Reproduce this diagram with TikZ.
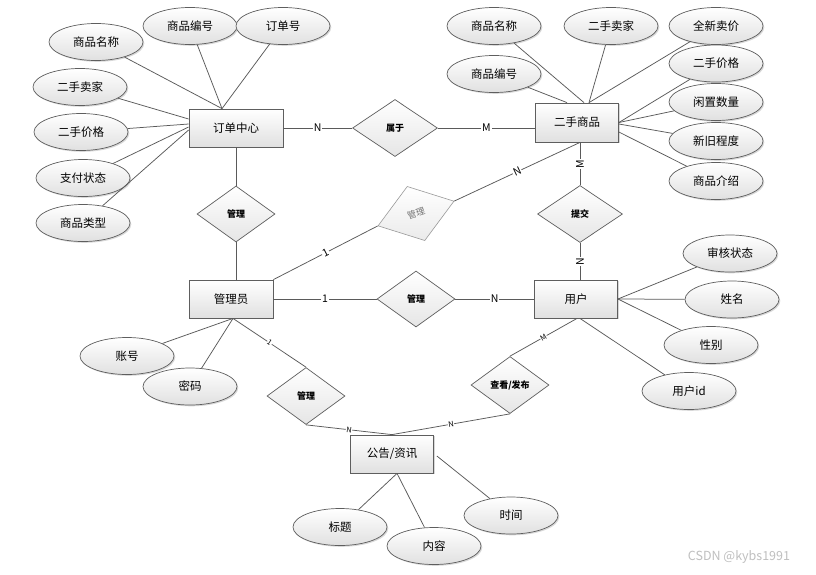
\documentclass[tikz,border=0pt]{standalone}
\usepackage{fontspec}
\newfontfamily\cjk{Noto Sans CJK SC}
\usetikzlibrary{shapes.geometric,calc,shadows}
\definecolor{edge}{HTML}{5E5E5E}
\definecolor{ln}{HTML}{5A5A5A}
\begin{document}
\begin{tikzpicture}[x=1pt,y=-1pt,
  shd/.style={drop shadow={shadow xshift=1.3pt,shadow yshift=-1.3pt,opacity=0.25,fill=black!60}},
  ent/.style={rectangle,draw=edge,line width=0.8pt,top color=white,bottom color=black!12,shd,
    minimum width=84pt,minimum height=38pt,inner sep=0pt,font=\cjk\fontsize{11.5}{13}\selectfont},
  attr/.style={ellipse,draw=edge,line width=0.7pt,top color=white,bottom color=black!12,shd,
    minimum width=94pt,minimum height=37pt,inner sep=0pt,font=\cjk\fontsize{11.5}{13}\selectfont},
  rel/.style={diamond,draw=edge,line width=0.7pt,top color=white,bottom color=black!10,aspect=1.4,
    minimum width=78pt,minimum height=56pt,inner sep=0pt,font=\cjk\bfseries\fontsize{9}{10}\selectfont},
  conn/.style={draw=ln,line width=0.75pt},
  lab/.style={fill=white,inner sep=0.8pt,font=\cjk\fontsize{10.5}{11}\selectfont},
  slab/.style={fill=white,inner sep=0.5pt,font=\cjk\fontsize{7.5}{8}\selectfont}]
\useasboundingbox (0,0) rectangle (816,574);
\fill[white] (0,0) rectangle (816,574);

% entities
\node[ent,minimum width=94pt] (ddzx) at (236,128) {订单中心};
\node[ent,minimum width=83pt,minimum height=39pt] (eshp) at (577,122.5) {二手商品};
\node[ent] (gly) at (231,299) {管理员};
\node[ent,minimum width=83pt] (yh) at (576,299) {用户};
\node[ent,minimum width=83pt] (gg) at (392,454) {公告/资讯};

% relationships
\node[rel,minimum width=85pt,minimum height=57pt] (sy) at (395,128) {属于};
\node[rel] (gl1) at (236,214) {管理};
\node[rel,minimum width=85pt,minimum height=57pt] (tj) at (580,214) {提交};
\node[rel] (gl2) at (416,299) {管理};
\node[rel,minimum height=57pt] (gl3) at (306,396) {管理};
\node[rel,minimum height=57pt] (ck) at (510,385) {查看/发布};
\node[diamond,draw=black!40,line width=0.6pt,top color=white,bottom color=black!8,aspect=1.4,
  minimum width=80pt,minimum height=57pt,inner sep=0pt,rotate=18,text=black!55,
  font=\cjk\fontsize{9}{10}\selectfont] (tilt) at (416,213.5) {管理};

% attributes of 订单中心
\node[attr] (a1) at (96,42) {商品名称};
\node[attr] (a2) at (190,26) {商品编号};
\node[attr] (a3) at (283,26) {订单号};
\node[attr] (a4) at (80,87) {二手卖家};
\node[attr] (a5) at (81,132) {二手价格};
\node[attr] (a6) at (83,178) {支付状态};
\node[attr] (a7) at (83,223) {商品类型};
% attributes of 二手商品
\node[attr] (b1) at (494,26) {商品名称};
\node[attr] (b2) at (611,26) {二手卖家};
\node[attr] (b3) at (716,26) {全新卖价};
\node[attr] (b4) at (494,74) {商品编号};
\node[attr] (b5) at (716,63.5) {二手价格};
\node[attr] (b6) at (716,102) {闲置数量};
\node[attr] (b7) at (716,141) {新旧程度};
\node[attr] (b8) at (716,181) {商品介绍};
% attributes of 用户
\node[attr] (c1) at (730,253.5) {审核状态};
\node[attr] (c2) at (732,299.5) {姓名};
\node[attr] (c3) at (711,345) {性别};
\node[attr] (c4) at (689,391) {用户id};
% attributes of 管理员
\node[attr] (d1) at (127,356) {账号};
\node[attr] (d2) at (190,386.5) {密码};
% attributes of 公告/资讯
\node[attr] (e1) at (340,527) {标题};
\node[attr] (e2) at (434,546) {内容};
\node[attr] (e3) at (511,515.5) {时间};

% attribute connectors
\coordinate (pA) at ($(ddzx.north)+(-14,0)$);
\foreach \n in {a1,a2,a3} \draw[conn] (\n) -- (pA);
\draw[conn] (a4) -- ($(ddzx.west)+(0,-9)$);
\draw[conn] (a5) -- ($(ddzx.west)+(0,-4)$);
\draw[conn] (a6) -- ($(ddzx.west)+(0,-1)$);
\draw[conn] (a7) -- ($(ddzx.west)+(0,2)$);

\draw[conn] (b1) -- ($(eshp.north)+(7,0)$);
\draw[conn] (b2) -- ($(eshp.north)+(12,0)$);
\draw[conn] (b3) -- ($(eshp.north)+(12,0)$);
\draw[conn] (b4) -- ($(eshp.north)+(-10,0)$);
\draw[conn] (b5) -- (eshp.east);
\draw[conn] (b6) -- (eshp.east);
\draw[conn] (b7) -- ($(eshp.east)+(0,1.5)$);
\draw[conn] (b8) -- ($(eshp.east)+(0,9.5)$);

\foreach \n in {c1,c2,c3} \draw[conn] (\n) -- (yh.east);
\draw[conn] (c4) -- ($(yh.south)+(4,0)$);

\coordinate (pG) at ($(gly.south)+(2,0)$);
\draw[conn] (d1) -- (pG);
\draw[conn] (d2) -- (pG);

\coordinate (pE) at ($(gg.south)+(5,0)$);
\draw[conn] (e1) -- (pE);
\draw[conn] (e2) -- (pE);
\draw[conn] (e3) -- ($(gg.east)+(3,2)$);

% relationship connectors
\draw[conn] (ddzx.east) -- node[lab]{N} (sy.west);
\draw[conn] (sy.east) -- node[lab]{M} (sy.east -| eshp.west);
\coordinate (pS) at (tj |- eshp.south);
\draw[conn] (pS) -- node[lab,rotate=90]{M} (tj.north);
\draw[conn] (tj.south) -- node[lab,rotate=90]{N} (tj |- yh.north);
\draw[conn] (ddzx.south) -- (gl1.north);
\draw[conn] (gl1.south) -- (gl1 |- gly.north);
\draw[conn] (gly.north east) -- node[lab,sloped]{1} (tilt.west);
\draw[conn] (tilt.east) -- node[lab,sloped]{N} (pS);
\draw[conn] (gly.east) -- node[lab]{1} (gl2.west);
\draw[conn] (gl2.east) -- node[lab]{N} (yh.west);
\draw[conn] (pG) -- node[slab,sloped]{1} (gl3.north);
\draw[conn] (gl3.south) -- node[slab,sloped]{N} (gg.north);
\draw[conn] (gg.north) -- node[slab,sloped]{N} (ck.south);
\draw[conn] (ck.north) -- node[slab,sloped]{M} ($(yh.south)+(1,0)$);

% watermark
\node[text=black!25,font=\cjk\fontsize{12.5}{13}\selectfont] (wm) at (739,557) {CSDN @kybs1991};
\end{tikzpicture}
\end{document}
